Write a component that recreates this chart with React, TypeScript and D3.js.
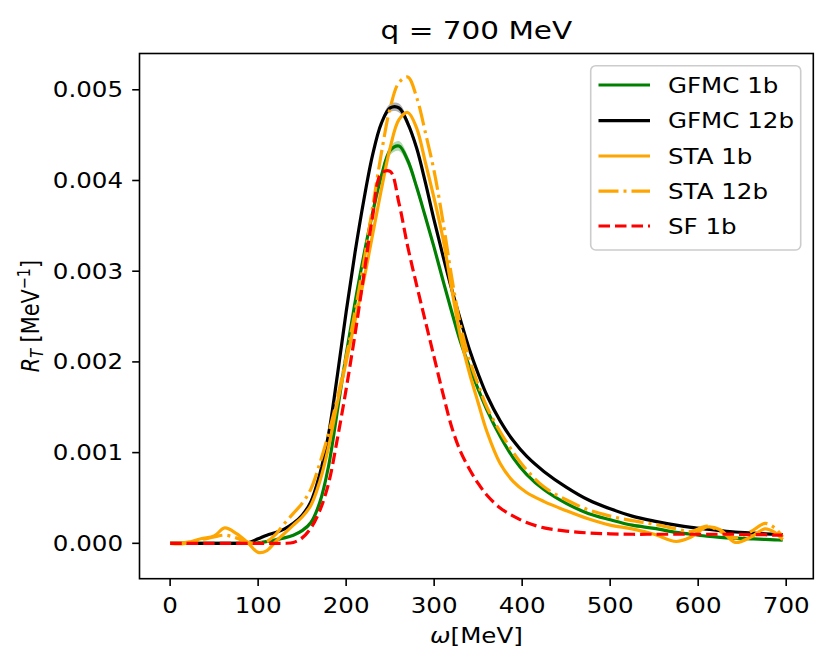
import * as d3 from "d3";

// energy transfer grid (MeV)
const omega = [
  0, 15, 35, 50, 62, 75, 88, 100, 110, 120, 130, 140, 150, 160, 170, 180, 190, 200, 210, 220,
  230, 240, 250, 260, 270, 280, 290, 300, 310, 320, 330, 340, 350, 360, 375, 390, 405, 425, 450,
  475, 500, 525, 550, 575, 592, 610, 625, 642, 660, 676, 687, 696,
];

// response values in units of 1e-3 MeV^-1
const gfmc1b = [
  0, 0, 0, 0, 0, 0, 0, 0.005, 0.02, 0.04, 0.06, 0.09, 0.14, 0.23, 0.45, 0.85, 1.46, 2.08, 2.65, 3.17,
  3.64, 4.05, 4.33, 4.38, 4.22, 3.93, 3.6, 3.26, 2.9, 2.55, 2.22, 1.95, 1.7, 1.47, 1.18, 0.94, 0.76,
  0.59, 0.44, 0.33, 0.26, 0.2, 0.165, 0.12, 0.1, 0.078, 0.066, 0.057, 0.05, 0.043, 0.038, 0.035,
];
const gfmc1bErr = [
  0, 0, 0, 0, 0, 0, 0, 0, 0, 0, 0, 0, 0, 0, 0, 0, 0, 0.01, 0.015, 0.02,
  0.03, 0.04, 0.05, 0.055, 0.055, 0.05, 0.045, 0.04, 0.035, 0.03, 0.025, 0.02, 0.015, 0.01, 0, 0, 0,
  0, 0, 0, 0, 0, 0, 0, 0, 0, 0, 0, 0, 0, 0, 0,
];
const gfmc12b = [
  0, 0, 0, 0, 0, 0, 0.005, 0.05, 0.09, 0.12, 0.16, 0.22, 0.31, 0.46, 0.76, 1.2, 1.85, 2.55, 3.2, 3.78,
  4.28, 4.63, 4.8, 4.8, 4.63, 4.36, 3.98, 3.56, 3.17, 2.8, 2.46, 2.14, 1.87, 1.63, 1.35, 1.13, 0.96,
  0.79, 0.62, 0.48, 0.38, 0.3, 0.245, 0.2, 0.175, 0.155, 0.14, 0.125, 0.115, 0.105, 0.1, 0.095,
];
const gfmc12bErr = [
  0, 0, 0, 0, 0, 0, 0, 0, 0, 0, 0, 0, 0, 0, 0, 0, 0, 0, 0.01, 0.015,
  0.02, 0.03, 0.045, 0.05, 0.045, 0.04, 0.03, 0.025, 0.02, 0.015, 0.01, 0.01, 0, 0, 0, 0, 0,
  0, 0, 0, 0, 0, 0, 0, 0, 0, 0, 0, 0, 0, 0, 0,
];
const sta1b = [
  0, -0.005, 0.05, 0.08, 0.17, 0.11, 0.01, -0.1, -0.08, 0.02, 0.11, 0.2, 0.29, 0.42, 0.68, 1.06, 1.55,
  2.0, 2.45, 2.9, 3.4, 3.9, 4.36, 4.67, 4.75, 4.58, 4.2, 3.8, 3.36, 2.8, 2.27, 1.88, 1.55, 1.23, 0.88,
  0.68, 0.56, 0.46, 0.36, 0.27, 0.2, 0.16, 0.1, 0.02, 0.07, 0.18, 0.15, 0.01, 0.07, 0.16, 0.12, 0.04,
];
const sta12b = [
  0, 0.005, 0.04, 0.07, 0.09, 0.06, 0.01, 0, 0.02, 0.1, 0.22, 0.33, 0.44, 0.6, 0.88, 1.21, 1.6, 2.05,
  2.55, 3.1, 3.7, 4.3, 4.8, 5.08, 5.14, 4.92, 4.53, 4.1, 3.55, 2.93, 2.4, 2.03, 1.75, 1.5, 1.23, 1.0,
  0.81, 0.62, 0.48, 0.37, 0.3, 0.25, 0.21, 0.16, 0.13, 0.19, 0.13, 0.06, 0.13, 0.22, 0.17, 0.07,
];
const sf1b = [
  0, 0, 0, 0, 0, 0, 0, 0, 0, 0, 0, 0.01, 0.06, 0.17, 0.36, 0.66, 1.15, 1.7, 2.3, 2.95, 3.6, 4.08,
  4.1, 3.75, 3.27, 2.85, 2.45, 2.05, 1.65, 1.28, 1.01, 0.82, 0.66, 0.53, 0.39, 0.3, 0.23, 0.17, 0.135,
  0.115, 0.105, 0.1, 0.1, 0.1, 0.1, 0.1, 0.1, 0.1, 0.095, 0.095, 0.09, 0.09,
];

const seriesNames = ["GFMC 1b", "GFMC 12b", "STA 1b", "STA 12b", "SF 1b"];
const xTicks = [0, 100, 200, 300, 400, 500, 600, 700];
const yTicks = [0, 0.001, 0.002, 0.003, 0.004, 0.005];

const W = 831;
const H = 670;
const plot = { left: 139.5, right: 813.3, top: 53.5, bottom: 578.7 };
const sx = 1.18; // the reference text is a bit wider than tall
const font = "'DejaVu Sans', sans-serif";

export default function App() {
  const x = d3.scaleLinear().domain([-34.8, 730.8]).range([plot.left, plot.right]);
  const y = d3.scaleLinear().domain([-0.00039, 0.0054]).range([plot.bottom, plot.top]);

  const curve = d3.curveCatmullRom.alpha(0.5);
  const line = d3
    .line<number>()
    .x((_, i) => x(omega[i]))
    .y((d) => y(d * 1e-3))
    .curve(curve);

  const band = (vals: number[], err: number[]) =>
    d3
      .area<number>()
      .x((_, i) => x(omega[i]))
      .y0((d, i) => y((d - err[i]) * 1e-3))
      .y1((d, i) => y((d + err[i]) * 1e-3))
      .curve(curve)(vals) ?? "";

  const series = [
    { name: seriesNames[0], values: gfmc1b, color: "#008000", dash: undefined },
    { name: seriesNames[1], values: gfmc12b, color: "#000000", dash: undefined },
    { name: seriesNames[2], values: sta1b, color: "#ffa500", dash: undefined },
    { name: seriesNames[3], values: sta12b, color: "#ffa500", dash: "20,5,3,5" },
    { name: seriesNames[4], values: sf1b, color: "#ff0000", dash: "11.5,5" },
  ];

  const cx = (plot.left + plot.right) / 2;
  const cy = (plot.top + plot.bottom) / 2;
  const legendRows = [85, 120.7, 156, 191.2, 226];

  return (
    <svg width={W} height={H} style={{ position: "absolute", left: 0, top: 0 }} fontFamily={font}>
      <rect width={W} height={H} fill="#fff" />
      <defs>
        <clipPath id="plotArea">
          <rect x={plot.left} y={plot.top} width={plot.right - plot.left} height={plot.bottom - plot.top} />
        </clipPath>
      </defs>

      <g clipPath="url(#plotArea)">
        <path d={band(gfmc1b, gfmc1bErr)} fill="#008000" fillOpacity={0.3} />
        <path d={band(gfmc12b, gfmc12bErr)} fill="#000000" fillOpacity={0.3} />
        {series.map((s) => (
          <path
            key={s.name}
            d={line(s.values) ?? ""}
            fill="none"
            stroke={s.color}
            strokeWidth={3.2}
            strokeDasharray={s.dash}
            strokeLinejoin="round"
          />
        ))}
      </g>

      {/* axes frame */}
      <rect
        x={plot.left}
        y={plot.top}
        width={plot.right - plot.left}
        height={plot.bottom - plot.top}
        fill="none"
        stroke="#000"
        strokeWidth={1.6}
      />

      {xTicks.map((t) => (
        <g key={t}>
          <line x1={x(t)} x2={x(t)} y1={plot.bottom} y2={plot.bottom + 7.3} stroke="#000" strokeWidth={1.6} />
          <text transform={`translate(${x(t)},${613}) scale(${sx},1)`} textAnchor="middle" fontSize={20.8}>
            {t}
          </text>
        </g>
      ))}
      {yTicks.map((t) => (
        <g key={t}>
          <line x1={plot.left - 7.3} x2={plot.left} y1={y(t)} y2={y(t)} stroke="#000" strokeWidth={1.6} />
          <text transform={`translate(${123},${y(t) + 7.5}) scale(${sx},1)`} textAnchor="end" fontSize={20.8}>
            {t.toFixed(3)}
          </text>
        </g>
      ))}

      <text transform={`translate(${cx},${39}) scale(${sx},1)`} textAnchor="middle" fontSize={25}>
        q = 700 MeV
      </text>
      <text transform={`translate(${cx},${643}) scale(${sx},1)`} textAnchor="middle" fontSize={20.8}>
        <tspan fontStyle="italic">ω</tspan>[MeV]
      </text>
      <text transform={`translate(${39},${cy}) scale(${sx},1) rotate(-90)`} textAnchor="middle" fontSize={20.8}>
        <tspan fontStyle="italic">R</tspan>
        <tspan fontStyle="italic" fontSize={14.5} dy={3.5}>T</tspan>
        <tspan dy={-3.5}> [MeV</tspan>
        <tspan fontSize={14.5} dy={-8}>−1</tspan>
        <tspan dy={8}>]</tspan>
      </text>

      {/* legend */}
      <rect x={590.7} y={65.7} width={210} height={184.3} rx={5} fill="#fff" fillOpacity={0.8} stroke="#cccccc" strokeWidth={1.6} />
      {series.map((s, i) => (
        <g key={s.name}>
          <line
            x1={598.5}
            x2={650}
            y1={legendRows[i]}
            y2={legendRows[i]}
            stroke={s.color}
            strokeWidth={3.2}
            strokeDasharray={s.dash}
          />
          <text transform={`translate(${668},${legendRows[i] + 7.5}) scale(${sx},1)`} fontSize={20.8}>
            {s.name}
          </text>
        </g>
      ))}
    </svg>
  );
}
